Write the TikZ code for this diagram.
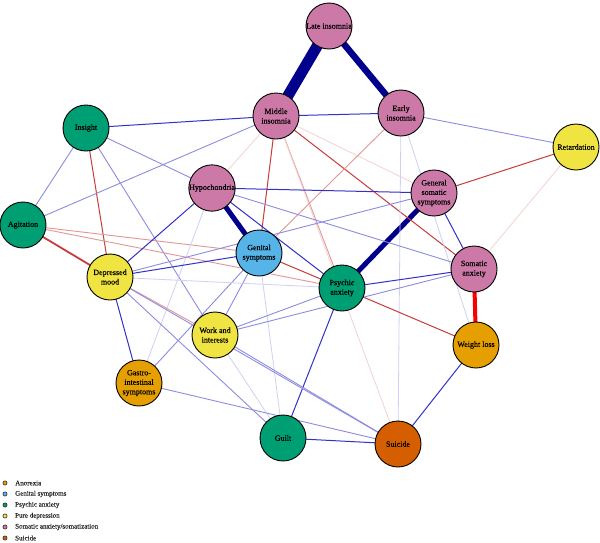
\documentclass[tikz,border=0pt]{standalone}
\usepackage{fontspec}
\setmainfont{Liberation Serif}
\newfontfamily\lblfont[FakeBold=0.25]{Liberation Serif}
\pgfdeclarelayer{back}
\pgfdeclarelayer{bg}
\pgfsetlayers{back,bg,main}
\definecolor{cpink}{RGB}{204,121,167}
\definecolor{cgreen}{RGB}{0,158,115}
\definecolor{cyellow}{RGB}{240,228,66}
\definecolor{corange}{RGB}{230,159,0}
\definecolor{csky}{RGB}{86,180,233}
\definecolor{cverm}{RGB}{213,94,0}
\definecolor{enavy}{RGB}{0,0,140}
\definecolor{ebM}{RGB}{50,50,200}
\definecolor{ebL}{RGB}{140,140,226}
\definecolor{ebF}{RGB}{208,208,243}
\definecolor{erM}{RGB}{200,60,60}
\definecolor{erL}{RGB}{226,150,150}
\definecolor{erF}{RGB}{243,210,210}
\definecolor{ered}{RGB}{250,0,0}
\tikzset{
  vn/.style={circle, draw=black, line width=0.9pt, minimum size=46pt, inner sep=0pt,
    font=\lblfont\fontsize{8}{9.5}\selectfont, align=center, text=black},
  thk/.style={draw=enavy, line width=#1},
  bM/.style={draw=ebM, line width=1pt},
  bL/.style={draw=ebL, line width=0.9pt},
  bF/.style={draw=ebF, line width=0.8pt},
  rM/.style={draw=erM, line width=1pt},
  rL/.style={draw=erL, line width=0.9pt},
  rF/.style={draw=erF, line width=0.8pt},
  legdot/.style={circle, draw=black!80, line width=0.6pt, minimum size=4.2pt, inner sep=0pt},
  legtxt/.style={anchor=west, inner sep=0pt, font=\lblfont\fontsize{7}{8}\selectfont, text=black!85}
}
\begin{document}
\begin{tikzpicture}[x=1pt,y=-1pt]
\useasboundingbox (0,0) rectangle (600,542);
\begin{pgfonlayer}{back}
\fill[white] (0,0) rectangle (600,542);
\end{pgfonlayer}
% nodes
\node[vn, fill=cpink] (LI) at (329,26) {Late insomnia};
\node[vn, fill=cpink] (MI) at (276,116) {Middle\\insomnia};
\node[vn, fill=cpink] (EI) at (401,113) {Early\\insomnia};
\node[vn, fill=cgreen] (Ins) at (86,128) {Insight};
\node[vn, fill=cyellow] (Ret) at (576,147) {Retardation};
\node[vn, fill=cpink] (Hyp) at (212,188) {Hypochondria};
\node[vn, fill=cpink] (GSS) at (434,193) {General\\somatic\\symptoms};
\node[vn, fill=cgreen] (Agi) at (23,225) {Agitation};
\node[vn, fill=csky] (Gen) at (259,253) {Genital\\symptoms};
\node[vn, fill=cyellow] (DM) at (110,277) {Depressed\\mood};
\node[vn, fill=cgreen] (PA) at (342,288) {Psychic\\anxiety};
\node[vn, fill=cpink] (SA) at (474,269) {Somatic\\anxiety};
\node[vn, fill=cyellow] (WI) at (215,335) {Work and\\interests};
\node[vn, fill=corange] (WL) at (476,345) {Weight loss};
\node[vn, fill=corange] (GI) at (139,383) {Gastro-\\intestinal\\symptoms};
\node[vn, fill=cgreen] (Gu) at (283,438) {Guilt};
\node[vn, fill=cverm] (Su) at (398,444) {Suicide};
% edges
\begin{pgfonlayer}{bg}
\draw[thk=11pt] (LI.center) -- (MI.center);
\draw[thk=6.5pt] (LI.center) -- (EI.center);
\draw[thk=5pt] (Hyp.center) -- (Gen.center);
\draw[thk=5pt] (GSS.center) -- (PA.center);
\draw[draw=ered, line width=4pt] (SA.center) -- (WL.center);
\draw[bM] (MI.center) -- (EI.center);
\draw[bM] (Ins.center) -- (MI.center);
\draw[bL] (Ins.center) -- (Agi.center);
\draw[rM] (Ins.center) -- (DM.center);
\draw[bL] (Ins.center) -- (Hyp.center);
\draw[bL] (Ins.center) -- (WI.center);
\draw[bL] (Agi.center) -- (MI.center);
\draw[rM, line width=1.8pt] (Agi.center) -- (DM.center);
\draw[rL] (Agi.center) -- (Gen.center);
\draw[rL] (Agi.center) -- (PA.center);
\draw[rM] (MI.center) -- (Gen.center);
\draw[rL] (MI.center) -- (PA.center);
\draw[rM] (MI.center) -- (SA.center);
\draw[rF] (MI.center) -- (GSS.center);
\draw[rF] (MI.center) -- (Su.center);
\draw[rF] (MI.center) -- (Hyp.center);
\draw[bL] (EI.center) -- (Ret.center);
\draw[rL] (EI.center) -- (Gen.center);
\draw[bF] (EI.center) -- (WL.center);
\draw[bF] (EI.center) -- (Su.center);
\draw[rM] (Ret.center) -- (GSS.center);
\draw[rF] (Ret.center) -- (SA.center);
\draw[bM] (Hyp.center) -- (GSS.center);
\draw[bM] (Hyp.center) -- (DM.center);
\draw[bM] (Hyp.center) -- (PA.center);
\draw[bL] (Hyp.center) -- (SA.center);
\draw[bF] (Hyp.center) -- (GI.center);
\draw[bM] (Gen.center) -- (DM.center);
\draw[rM] (Gen.center) -- (PA.center);
\draw[bL] (Gen.center) -- (WI.center);
\draw[bL] (Gen.center) -- (GI.center);
\draw[bF] (Gen.center) -- (Gu.center);
\draw[bM] (GSS.center) -- (SA.center);
\draw[bL] (GSS.center) -- (DM.center);
\draw[bM] (PA.center) -- (SA.center);
\draw[rM] (PA.center) -- (WL.center);
\draw[bM] (PA.center) -- (Gu.center);
\draw[bL] (PA.center) -- (WI.center);
\draw[bF] (PA.center) -- (DM.center);
\draw[bL] (WI.center) -- (SA.center);
\draw[bL] (WI.center) -- (Su.center);
\draw[bF] (WI.center) -- (Gu.center);
\draw[rL] (DM.center) -- (WI.center);
\draw[bM] (DM.center) -- (GI.center);
\draw[bL] (DM.center) -- (Gu.center);
\draw[bL] (DM.center) -- (Su.center);
\draw[bL] (GI.center) -- (Su.center);
\draw[bM] (Gu.center) -- (Su.center);
\draw[bM] (WL.center) -- (Su.center);
\end{pgfonlayer}
% legend
\node[legdot, fill=corange] (d1) at (5,483) {};
\node[legdot, fill=csky] (d2) at (5,494) {};
\node[legdot, fill=cgreen] (d3) at (5,505) {};
\node[legdot, fill=cyellow] (d4) at (5,516) {};
\node[legdot, fill=cpink] (d5) at (5,527) {};
\node[legdot, fill=cverm] (d6) at (5,538) {};
\node[legtxt] (t1) at (15,483) {Anorexia};
\node[legtxt] (t2) at (15,494) {Genital symptoms};
\node[legtxt] (t3) at (15,505) {Psychic anxiety};
\node[legtxt] (t4) at (15,516) {Pure depression};
\node[legtxt] (t5) at (15,527) {Somatic anxiety/somatization};
\node[legtxt] (t6) at (15,538) {Suicide};
\end{tikzpicture}
\end{document}
